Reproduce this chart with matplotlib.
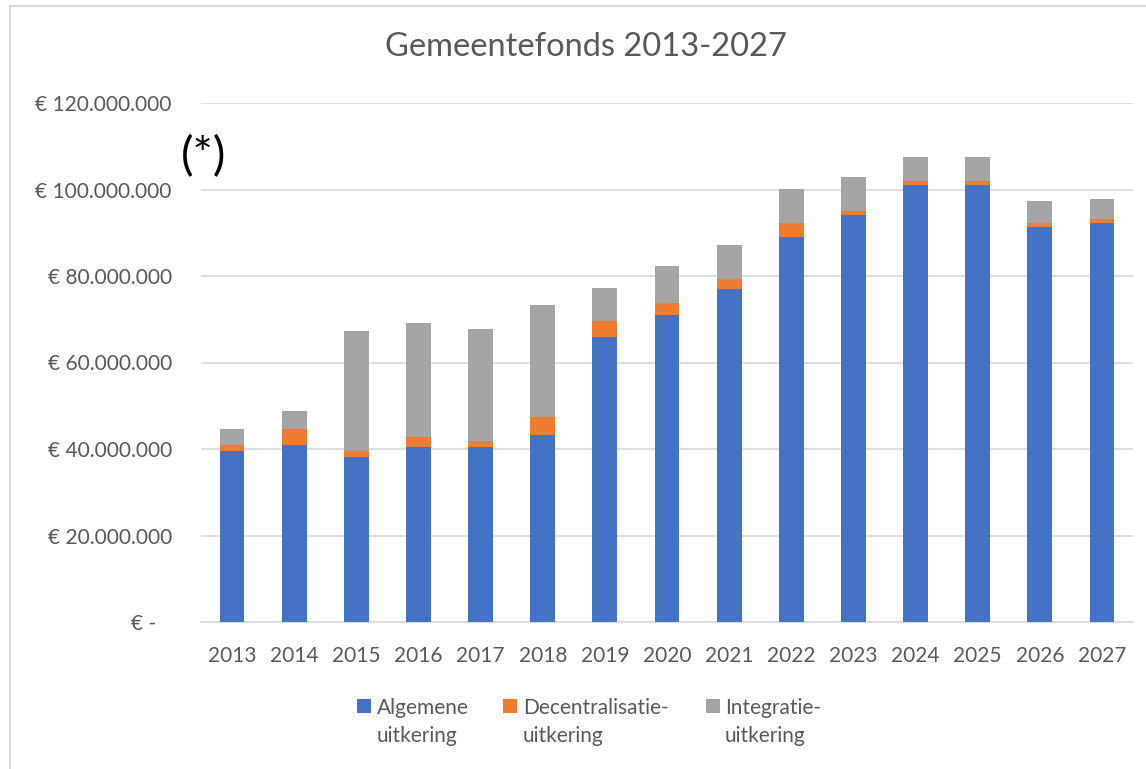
import matplotlib
matplotlib.use("Agg")
import matplotlib.pyplot as plt
from matplotlib.patches import Rectangle
import numpy as np

plt.rcParams['font.family'] = ['Lato', 'DejaVu Sans']

years = ["2013", "2014", "2015", "2016", "2017", "2018", "2019", "2020",
         "2021", "2022", "2023", "2024", "2025", "2026", "2027"]
algemene = [39.5, 40.9, 38.1, 40.4, 40.5, 43.2, 65.9, 71.0,
            77.0, 89.1, 94.2, 101.1, 101.1, 91.4, 92.3]
decentralisatie = [1.4, 3.7, 1.4, 2.4, 1.4, 4.2, 3.7, 2.8,
                   2.3, 3.2, 0.9, 0.9, 0.9, 0.9, 0.9]
integratie = [3.7, 4.2, 27.8, 26.3, 25.9, 25.8, 7.7, 8.4,
              7.9, 7.9, 7.8, 5.6, 5.6, 5.1, 4.7]
series_labels = ["Algemene\nuitkering", "Decentralisatie-\nuitkering", "Integratie-\nuitkering"]
colors = ["#4472C4", "#ED7D31", "#A5A5A5"]
yticks = [0, 20, 40, 60, 80, 100, 120]
ytick_labels = ["€ -   ", "€ 20.000.000", "€ 40.000.000", "€ 60.000.000",
                "€ 80.000.000", "€ 100.000.000", "€ 120.000.000"]

W, H = 1146, 769
fig = plt.figure(figsize=(W / 100, H / 100), dpi=100)
ax = fig.add_axes([201 / W, 1 - 622 / H, (1133 - 201) / W, (622 - 103) / H])

x = np.arange(len(years))
a = np.array(algemene) * 1e6
d = np.array(decentralisatie) * 1e6
g = np.array(integratie) * 1e6
bw = 0.4
ax.bar(x, a, bw, color=colors[0], zorder=3)
ax.bar(x, d, bw, bottom=a, color=colors[1], zorder=3)
ax.bar(x, g, bw, bottom=a + d, color=colors[2], zorder=3)

ax.set_xlim(-0.5, len(years) - 0.5)
ax.set_ylim(0, 120e6)
ax.set_yticks([v * 1e6 for v in yticks])
ax.set_yticklabels(ytick_labels)
ax.set_xticks(x)
ax.set_xticklabels(years)
ax.tick_params(axis='both', length=0, colors="#595959", labelsize=15)
ax.tick_params(axis='y', pad=21)
ax.tick_params(axis='x', pad=17)
ax.grid(axis='y', color="#D9D9D9", linewidth=1.2, zorder=0)
for s in ax.spines.values():
    s.set_visible(False)
ax.spines['bottom'].set_visible(True)
ax.spines['bottom'].set_color("#D9D9D9")
ax.spines['bottom'].set_linewidth(1.2)

fig.text(586 / W, 1 - 47 / H, "Gemeentefonds 2013-2027", ha='center', va='center',
         fontsize=23.5, color="#595959")
fig.text(204 / W, 1 - 157 / H, "(*)", ha='center', va='center', fontsize=34, color="black")

# legend
leg_items = [(357, 377), (503, 523), (706, 725)]
for (mx, tx), lab, c in zip(leg_items, series_labels, colors):
    fig.patches.append(Rectangle((mx / W, 1 - 713 / H), 14 / W, 14 / H,
                                 transform=fig.transFigure,
                                 facecolor=c, edgecolor='none'))
    fig.text(tx / W, 1 - 742 / H, lab, ha='left', va='baseline', fontsize=15,
             color="#595959", linespacing=1.5)

# chart border
fig.patches.append(Rectangle((10 / W, -0.01), 1.5, 1 - 6 / H + 0.01, transform=fig.transFigure,
                             facecolor='none', edgecolor="#D9D9D9", linewidth=1.5))

fig.savefig("out.png", dpi=100)
